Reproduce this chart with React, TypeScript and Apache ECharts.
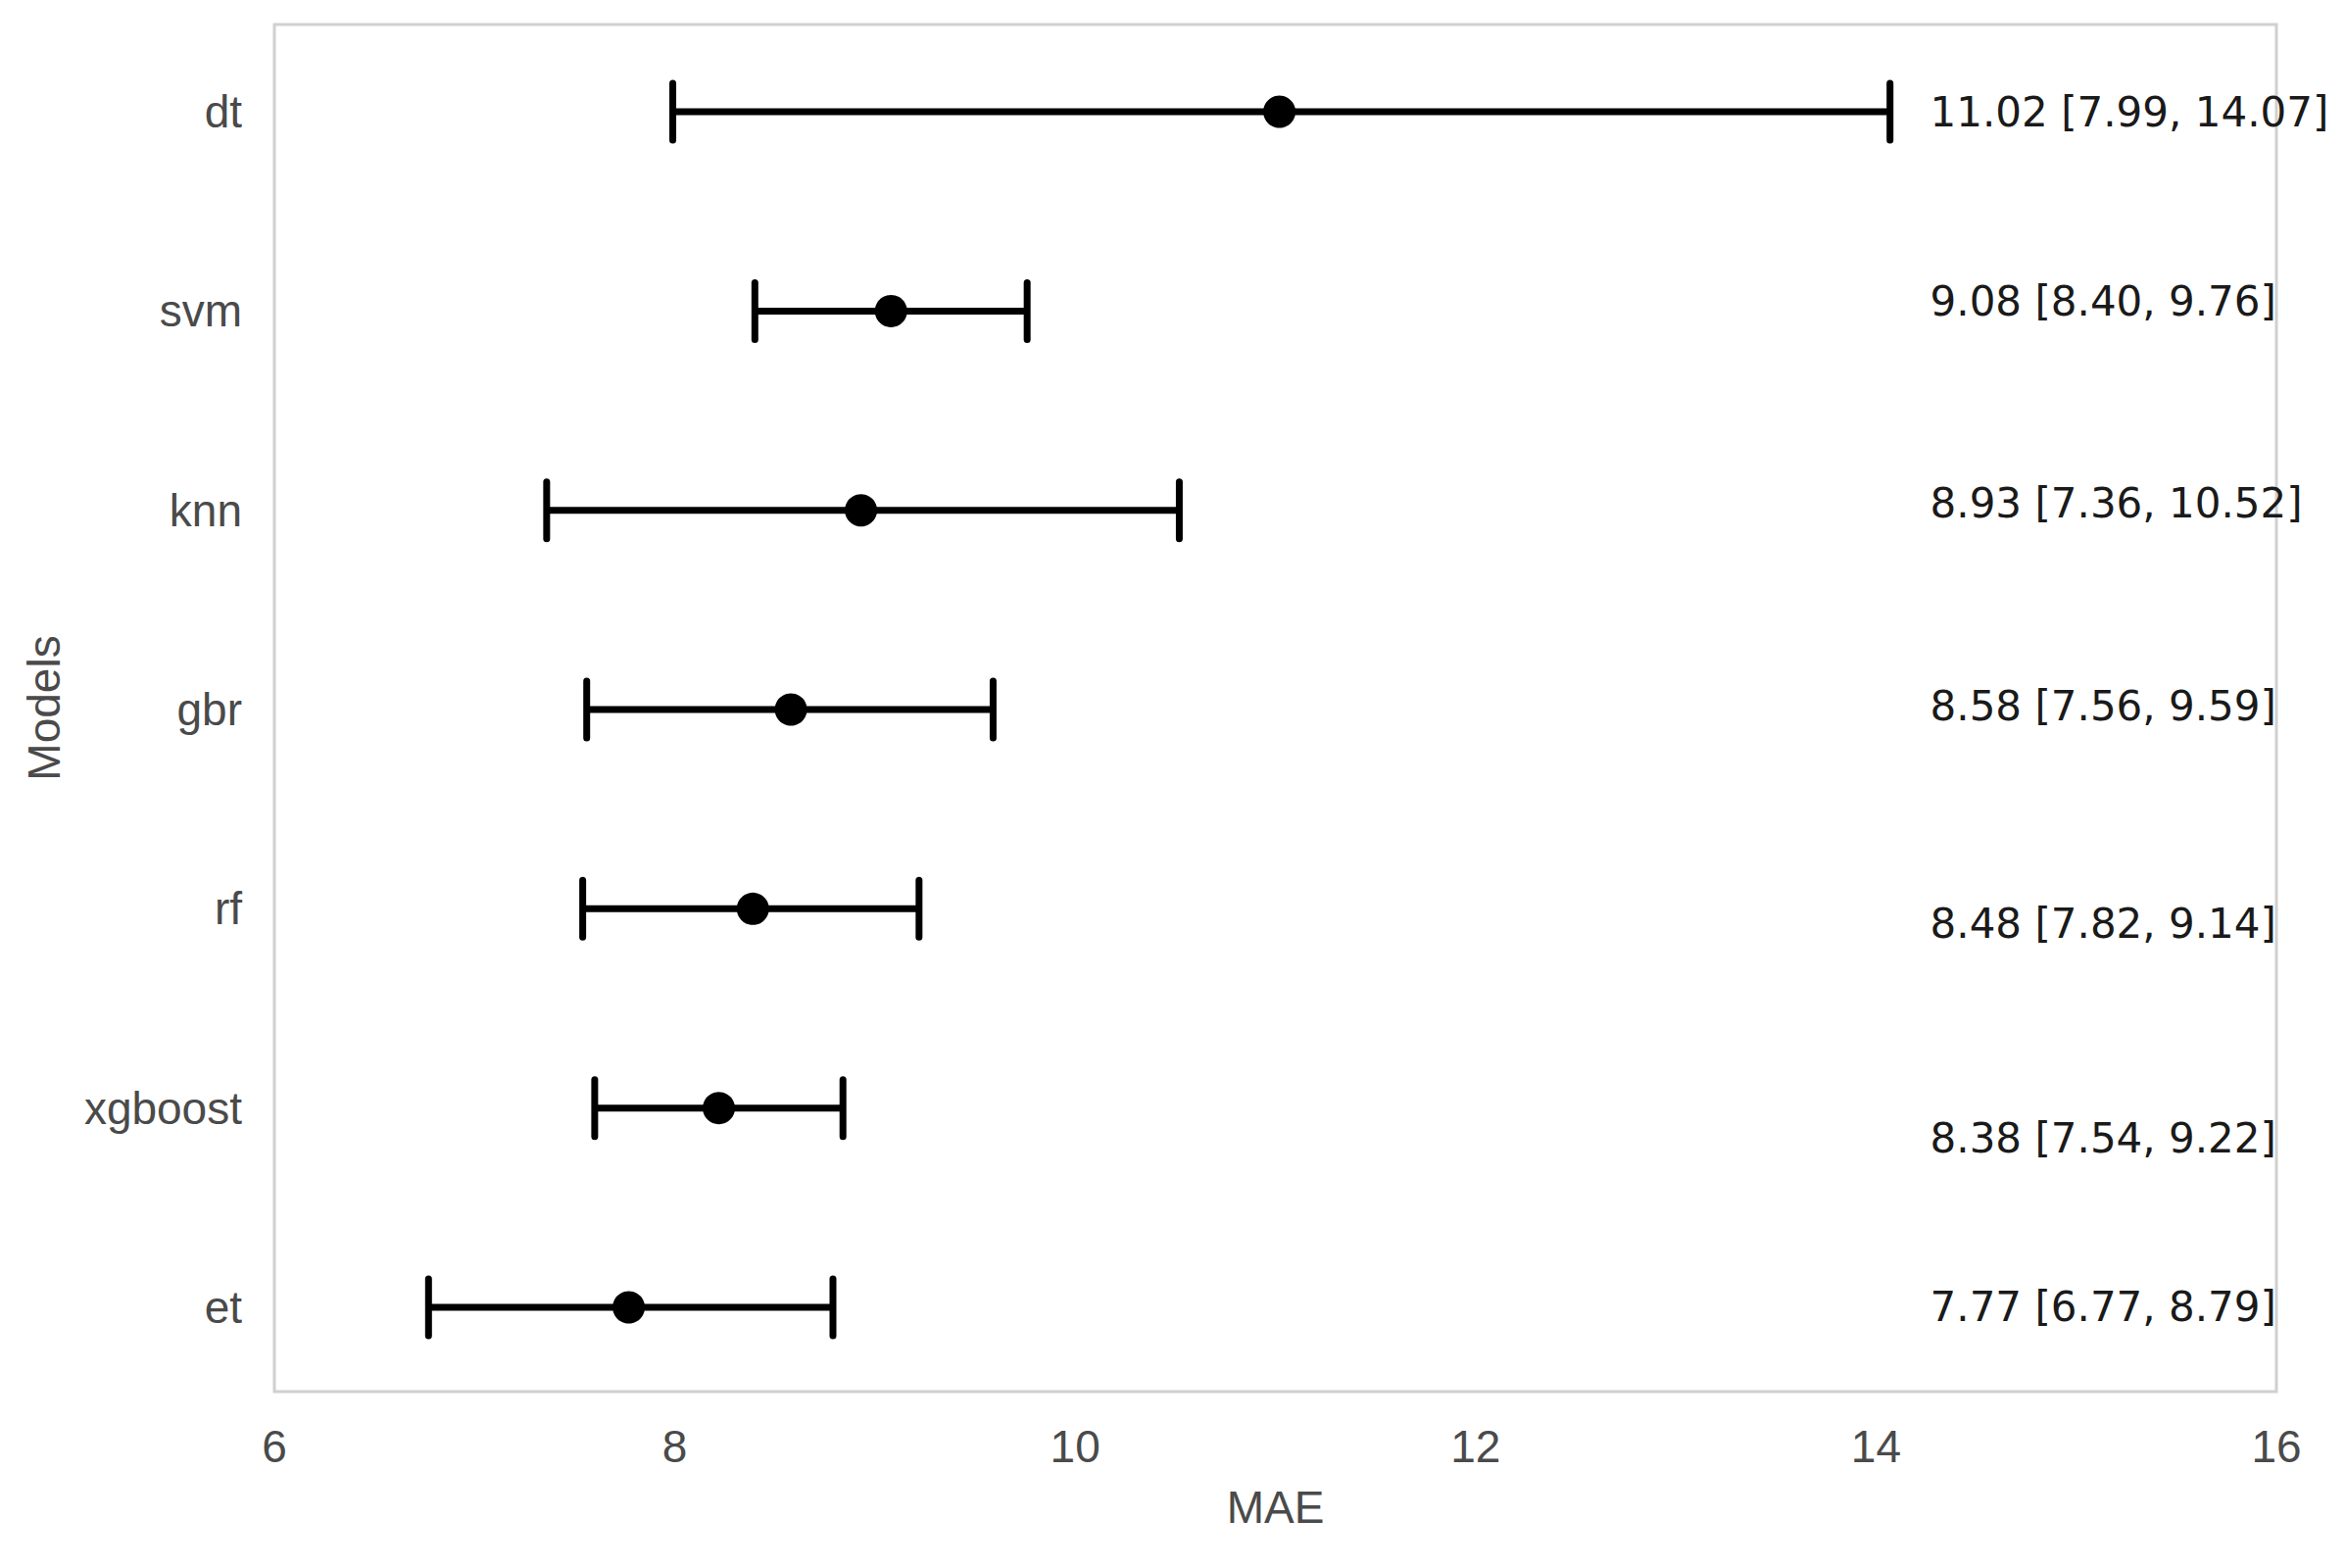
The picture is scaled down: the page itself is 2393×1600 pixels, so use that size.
import React, { useEffect, useRef } from "react";
import * as echarts from "echarts";

const models = ["dt", "svm", "knn", "gbr", "rf", "xgboost", "et"];
const means = [11.02, 9.08, 8.93, 8.58, 8.39, 8.22, 7.77];
const lower = [7.99, 8.4, 7.36, 7.56, 7.54, 7.6, 6.77];
const upper = [14.07, 9.76, 10.52, 9.59, 9.22, 8.84, 8.79];
const ciLabels = [
  "11.02 [7.99, 14.07]",
  "9.08 [8.40, 9.76]",
  "8.93 [7.36, 10.52]",
  "8.58 [7.56, 9.59]",
  "8.48 [7.82, 9.14]",
  "8.38 [7.54, 9.22]",
  "7.77 [6.77, 8.79]",
];
const labelRows = [0, 0.95, 1.965, 2.985, 4.075, 5.15, 6];
const labelX = 14.27;
const xTicks = [6, 8, 10, 12, 14, 16];

export default function App() {
  const ref = useRef<HTMLDivElement>(null);
  useEffect(() => {
    const chart = echarts.init(ref.current!, null, { renderer: "svg" });
    const axisFont = { fontFamily: "Liberation Sans, Arial, sans-serif", fontSize: 46, color: "#4a4a4a" };
    chart.setOption({
      animation: false,
      backgroundColor: "#ffffff",
      grid: {
        left: 280,
        top: 25,
        width: 2043,
        height: 1395,
        show: true,
        borderColor: "#d0d0d0",
        borderWidth: 3,
        backgroundColor: "transparent",
      },
      xAxis: {
        type: "value",
        min: xTicks[0],
        max: xTicks[xTicks.length - 1],
        interval: 2,
        name: "MAE",
        nameLocation: "middle",
        nameGap: 95,
        nameTextStyle: axisFont,
        axisLine: { show: false },
        axisTick: { show: false },
        splitLine: { show: false },
        axisLabel: { ...axisFont, margin: 33 },
      },
      yAxis: {
        type: "value",
        inverse: true,
        min: -0.438,
        max: 6.423,
        name: "Models",
        nameLocation: "middle",
        nameGap: 212,
        nameTextStyle: axisFont,
        axisLine: { show: false },
        axisTick: { show: false },
        splitLine: { show: false },
        axisLabel: {
          ...axisFont,
          margin: 33,
          customValues: models.map((_, i) => i),
          formatter: (v: number) => models[Math.round(v)] ?? "",
        },
      },
      series: [
        {
          type: "custom",
          data: models.map((_, i) => [i, lower[i], upper[i]]),
          encode: { x: [1, 2], y: 0 },
          renderItem: (params: any, api: any) => {
            const row = api.value(0);
            const a = api.coord([api.value(1), row]);
            const b = api.coord([api.value(2), row]);
            const h = 29;
            const st = { stroke: "#000000", lineWidth: 7, lineCap: "round" };
            return {
              type: "group",
              children: [
                { type: "line", shape: { x1: a[0], y1: a[1], x2: b[0], y2: b[1] }, style: { stroke: "#000000", lineWidth: 7 } },
                { type: "line", shape: { x1: a[0], y1: a[1] - h, x2: a[0], y2: a[1] + h }, style: st },
                { type: "line", shape: { x1: b[0], y1: b[1] - h, x2: b[0], y2: b[1] + h }, style: st },
              ],
            };
          },
          z: 2,
        },
        {
          type: "scatter",
          data: models.map((_, i) => [means[i], i]),
          symbol: "circle",
          symbolSize: 33,
          itemStyle: { color: "#000000", opacity: 1 },
          z: 3,
        },
        {
          type: "custom",
          data: models.map((_, i) => [labelX, labelRows[i], i]),
          encode: { x: 0, y: 1 },
          renderItem: (params: any, api: any) => {
            const p = api.coord([api.value(0), api.value(1)]);
            const idx = api.value(2);
            return {
              type: "text",
              x: p[0],
              y: p[1],
              style: {
                text: ciLabels[idx],
                fill: "#1a1a1a",
                fontSize: 42,
                fontFamily: "DejaVu Sans, sans-serif",
                align: "left",
                verticalAlign: "middle",
              },
            };
          },
          z: 4,
        },
      ],
    });
    return () => chart.dispose();
  }, []);
  return <div ref={ref} style={{ position: "absolute", left: 0, top: 0, width: 2393, height: 1600 }} />;
}
